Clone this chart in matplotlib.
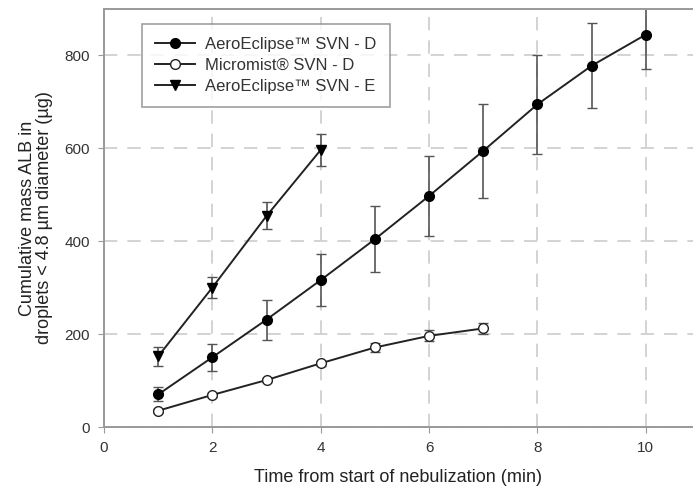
import numpy as np
import matplotlib.pyplot as plt

plt.rcParams['font.family'] = ['Liberation Sans', 'DejaVu Sans']

# AeroEclipse SVN - D
t_d = [1, 2, 3, 4, 5, 6, 7, 8, 9, 10]
aero_d = [70, 150, 231, 316, 404, 497, 594, 694, 777, 844]
aero_d_err = [15, 29, 43, 56, 71, 86, 101, 106, 91, 75]

# Micromist SVN - D
t_m = [1, 2, 3, 4, 5, 6, 7]
micro_d = [35, 69, 101, 137, 171, 196, 212]
micro_d_err = [4, 4, 5, 6, 9, 12, 12]

# AeroEclipse SVN - E
t_e = [1, 2, 3, 4]
aero_e = [152, 300, 454, 596]
aero_e_err = [21, 22, 29, 34]

fig = plt.figure(figsize=(6.93, 4.98), dpi=100)
ax = fig.add_axes([104/693, 71/498, 1 - 104/693, (427 - 9)/498])

ekw = dict(fmt='none', ecolor='#555555', elinewidth=1.2, capsize=3.5, capthick=1.0)
ax.errorbar(t_d, aero_d, yerr=aero_d_err, **ekw)
ax.errorbar(t_m, micro_d, yerr=micro_d_err, **ekw)
ax.errorbar(t_e, aero_e, yerr=aero_e_err, **ekw)

lkw = dict(color='#222222', lw=1.4, ms=7)
ax.plot(t_d, aero_d, '-o', mfc='black', mec='black', label='AeroEclipse\u2122 SVN - D', **lkw)
ax.plot(t_m, micro_d, '-o', mfc='white', mec='#222222', label='Micromist\u00ae SVN - D', **lkw)
ax.plot(t_e, aero_e, '-v', mfc='black', mec='black', label='AeroEclipse\u2122 SVN - E', **lkw)

ax.set_xlim(0, 10.87)
ax.set_ylim(0, 899)
ax.set_xticks([0, 2, 4, 6, 8, 10])
ax.set_yticks([0, 200, 400, 600, 800])
ax.grid(True, color='#cccccc', linestyle=(0, (8, 6)), linewidth=1.2)
ax.set_axisbelow(True)

for s in ['left', 'bottom', 'top']:
    ax.spines[s].set_color('#999999')
    ax.spines[s].set_linewidth(1.4)
ax.spines['right'].set_visible(False)
ax.tick_params(direction='out', length=4, color='#999999', labelsize=11, labelcolor='#333333', pad=6)

ax.set_xlabel('Time from start of nebulization (min)', fontsize=13, color='#222222', labelpad=10)
ax.set_ylabel('Cumulative mass ALB in\ndroplets < 4.8 \u00b5m diameter (\u00b5g)', fontsize=13,
              color='#222222', labelpad=8, linespacing=1.0)

leg = ax.legend(loc='upper left', bbox_to_anchor=(0.05, 0.985), fontsize=12, frameon=True,
                fancybox=False, edgecolor='#888888', handlelength=2.4, borderpad=0.8,
                labelspacing=0.35, handletextpad=0.6)
leg.get_frame().set_linewidth(1.2)
for txt in leg.get_texts():
    txt.set_color('#333333')

fig.savefig('out.png', dpi=100)
